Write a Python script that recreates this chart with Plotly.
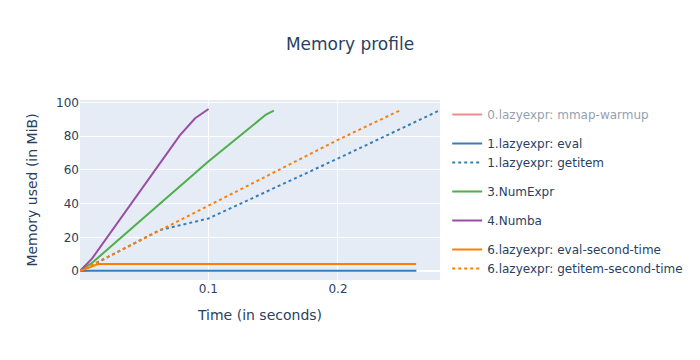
import plotly.graph_objects as go

# Data (time in seconds, memory in MiB)
warmup_t = [0.001, 0.01, 0.02]
warmup_m = [0.0, 0.5, 1.0]

eval_t = [0.001, 0.01, 0.2605]
eval_m = [0.0, 0.2, 0.2]

getitem_t = [0.001, 0.0156, 0.0625, 0.1002, 0.2005, 0.2787]
getitem_m = [0.0, 5.5, 24.3, 31.2, 67.0, 95.5]

numexpr_t = [0.001, 0.0104, 0.05, 0.1, 0.1445, 0.1505]
numexpr_m = [0.0, 4.9, 31.5, 65.0, 92.9, 95.3]

numba_t = [0.001, 0.0104, 0.078, 0.0898, 0.1002]
numba_m = [0.0, 7.5, 80.5, 90.7, 96.2]

eval2_t = [0.001, 0.015, 0.2603]
eval2_m = [0.0, 4.1, 4.1]

getitem2_t = [0.001, 0.1, 0.2, 0.2487]
getitem2_m = [0.0, 38.6, 77.9, 95.7]

RED, BLUE, GREEN, PURPLE, ORANGE = "#e41a1c", "#377eb8", "#4daf4a", "#984ea3", "#ff7f00"

fig = go.Figure()
fig.add_trace(go.Scatter(x=warmup_t, y=warmup_m, mode="lines", name="0.lazyexpr: mmap-warmup",
                         line=dict(color=RED), legendgroup="0", visible="legendonly"))
fig.add_trace(go.Scatter(x=eval_t, y=eval_m, mode="lines", name="1.lazyexpr: eval",
                         line=dict(color=BLUE), legendgroup="1"))
fig.add_trace(go.Scatter(x=getitem_t, y=getitem_m, mode="lines", name="1.lazyexpr: getitem",
                         line=dict(color=BLUE, dash="dot"), legendgroup="1"))
fig.add_trace(go.Scatter(x=numexpr_t, y=numexpr_m, mode="lines", name="3.NumExpr",
                         line=dict(color=GREEN), legendgroup="3"))
fig.add_trace(go.Scatter(x=numba_t, y=numba_m, mode="lines", name="4.Numba",
                         line=dict(color=PURPLE), legendgroup="4"))
fig.add_trace(go.Scatter(x=eval2_t, y=eval2_m, mode="lines", name="6.lazyexpr: eval-second-time",
                         line=dict(color=ORANGE), legendgroup="6"))
fig.add_trace(go.Scatter(x=getitem2_t, y=getitem2_m, mode="lines", name="6.lazyexpr: getitem-second-time",
                         line=dict(color=ORANGE, dash="dot"), legendgroup="6"))

fig.update_layout(
    width=700, height=360,
    font=dict(family="Verdana, DejaVu Sans, sans-serif"),
    title=dict(text="Memory profile", x=0.5),
    xaxis=dict(title="Time (in seconds)"),
    yaxis=dict(title="Memory used (in MiB)"),
    legend=dict(maxheight=400),
)
fig.write_html("out.html")
